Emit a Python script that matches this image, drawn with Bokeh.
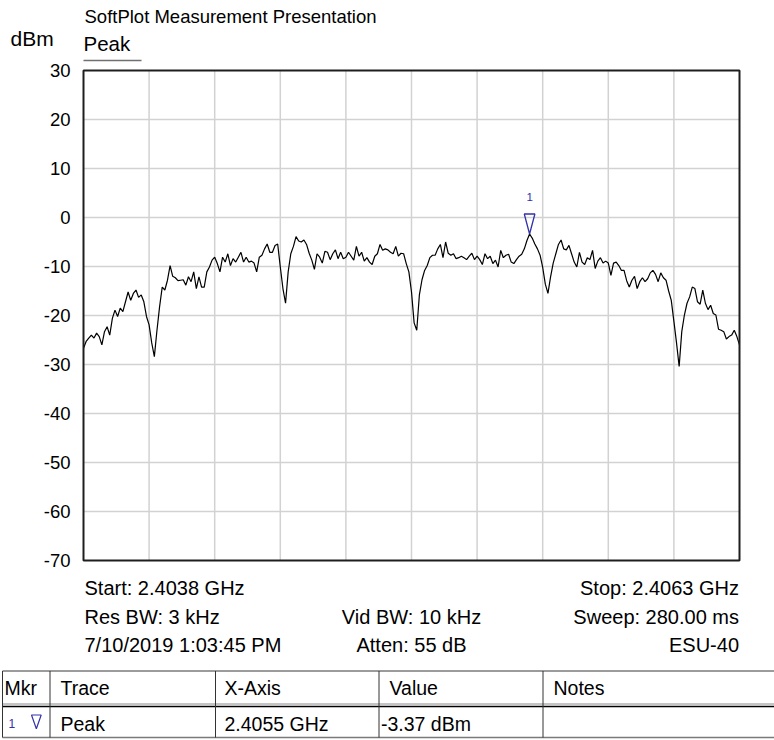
from bokeh.plotting import figure
from bokeh.models import Range1d, FixedTicker, LinearAxis
from bokeh.embed import file_html
from bokeh.resources import INLINE
from bokeh.core.properties import value
import numpy as np

# ---------------- data ----------------
START_GHZ = 2.4038
STOP_GHZ = 2.4063
Y_TICKS = [-70, -60, -50, -40, -30, -20, -10, 0, 10, 20, 30]
Y_TICK_LABELS = ["-70", "-60", "-50", "-40", "-30", "-20", "-10", "0", "10", "20", "30"]
X_DIVISIONS = 10

# Peak trace levels (dBm), equally spaced sweep points
level_dbm = [
    -26.7, -25.3, -24.6, -24.0, -24.6, -23.6, -24.3, -26.0, -23.3, -22.3,
    -24.0, -20.6, -18.9, -20.2, -18.5, -19.2, -17.2, -15.2, -16.9, -15.5,
    -14.8, -16.3, -15.8, -17.2, -20.2, -21.9, -25.6, -28.4, -23.0, -18.2,
    -14.2, -14.8, -12.8, -9.8, -12.0, -12.3, -12.9, -12.8, -12.7, -13.8,
    -12.1, -13.1, -11.1, -14.5, -12.1, -14.2, -14.2, -11.1, -10.1, -8.7,
    -8.1, -9.4, -11.1, -8.1, -9.1, -7.4, -9.8, -8.4, -9.1, -8.1,
    -7.1, -9.1, -8.1, -9.1, -8.9, -9.3, -11.1, -8.1, -7.7, -6.4,
    -5.4, -7.1, -7.1, -5.7, -5.4, -10.1, -14.5, -17.5, -11.1, -7.4,
    -5.9, -3.9, -4.8, -5.0, -4.6, -5.5, -7.3, -8.7, -10.6, -7.4,
    -8.1, -9.3, -6.9, -7.1, -8.6, -7.4, -6.6, -8.4, -7.1, -8.4,
    -8.1, -7.1, -7.9, -8.7, -5.9, -7.9, -7.1, -8.9, -8.2, -9.1,
    -9.6, -7.9, -7.4, -5.5, -6.7, -6.4, -6.6, -7.1, -7.4, -5.9,
    -7.9, -7.3, -7.4, -9.4, -11.1, -15.2, -21.5, -23.0, -15.8, -12.7,
    -10.8, -9.8, -8.2, -7.7, -7.7, -6.4, -5.5, -8.2, -5.0, -7.3,
    -7.7, -7.4, -8.4, -8.2, -7.9, -8.2, -8.6, -7.9, -7.3, -8.6,
    -7.9, -8.6, -9.6, -7.4, -8.4, -7.9, -9.4, -8.7, -10.1, -6.7,
    -8.2, -7.7, -7.5, -9.1, -9.4, -8.6, -7.9, -7.5, -6.4, -4.7,
    -3.37, -4.2, -5.4, -6.4, -7.7, -10.2, -13.6, -15.5, -12.1, -9.3,
    -7.4, -5.5, -4.6, -6.4, -6.6, -5.7, -7.4, -9.1, -10.1, -7.1,
    -9.1, -9.6, -8.2, -8.6, -6.7, -10.4, -8.9, -8.2, -9.3, -8.9,
    -9.3, -11.8, -9.3, -9.1, -9.8, -10.8, -10.8, -12.9, -14.2, -12.8,
    -12.0, -14.5, -13.1, -12.3, -13.1, -12.5, -11.3, -10.8, -11.6, -13.1,
    -11.3, -12.3, -12.8, -15.0, -16.9, -21.2, -25.6, -30.4, -23.3, -19.9,
    -17.5, -16.2, -14.2, -14.5, -17.2, -17.7, -14.8, -17.5, -18.8, -17.9,
    -19.6, -19.9, -22.8, -23.0, -23.3, -24.8, -24.3, -24.0, -23.0, -24.3,
    -26.0,
]

marker_label = "1"
marker_freq_ghz = 2.4055
marker_level_dbm = -3.37

header_title = "SoftPlot Measurement Presentation"
y_unit = "dBm"
trace_name = "Peak"

info_left = ["Start: 2.4038 GHz", "Res BW: 3 kHz", "7/10/2019 1:03:45 PM"]
info_center = ["Vid BW: 10 kHz", "Atten: 55 dB"]
info_right = ["Stop: 2.4063 GHz", "Sweep: 280.00 ms", "ESU-40"]

table_header = ["Mkr", "Trace", "X-Axis", "Value", "Notes"]
table_row = ["Peak", "2.4055 GHz", "-3.37 dBm"]

# ---------------- styling / layout ----------------
FONT = "Liberation Sans"
MK_COLOR = "#3232aa"
GRID_COLOR = "#d2d2d2"
W, H = 774, 740
FL, FW = 83, 656          # plot box left / width (canvas px)
FT, FH = 70, 490          # plot box top / height
FB = FT + FH

ghz_per_px = (STOP_GHZ - START_GHZ) / FW
db_per_px = (Y_TICKS[-1] - Y_TICKS[0]) / FH

# whole canvas is the frame; data ranges chosen so the plot box lands on FL..FL+FW, FT..FB
p = figure(width=W, height=H,
           x_range=Range1d(START_GHZ - FL * ghz_per_px, STOP_GHZ + (W - FL - FW) * ghz_per_px),
           y_range=Range1d(Y_TICKS[0] - (H - FB) * db_per_px, Y_TICKS[-1] + FT * db_per_px),
           output_backend="svg", toolbar_location=None,
           x_axis_location=None, y_axis_location=None, min_border=0)
p.grid.visible = False
p.outline_line_color = None
p.background_fill_color = "white"
p.border_fill_color = "white"
p.extra_x_ranges = {"px": Range1d(0, W)}
p.extra_y_ranges = {"px": Range1d(H, 0)}
PX = dict(x_range_name="px", y_range_name="px")

# y axis pinned to the left edge of the plot box
ya = LinearAxis(fixed_location=START_GHZ, ticker=FixedTicker(ticks=Y_TICKS))
ya.major_label_overrides = {t: s for t, s in zip(Y_TICKS, Y_TICK_LABELS)}
ya.axis_line_color = None
ya.major_tick_line_color = None
ya.minor_tick_line_color = None
ya.major_tick_out = 0
ya.major_tick_in = 0
ya.major_label_standoff = 13
ya.major_label_text_font = FONT
ya.major_label_text_font_size = "18.5px"
ya.major_label_text_color = "#000000"
p.add_layout(ya, "left")

# grid lines inside the plot box
x_grid = list(np.linspace(START_GHZ, STOP_GHZ, X_DIVISIONS + 1)[1:-1])
y_grid = Y_TICKS[1:-1]
p.segment(x0=x_grid, y0=[Y_TICKS[0]] * len(x_grid), x1=x_grid, y1=[Y_TICKS[-1]] * len(x_grid),
          line_color=GRID_COLOR, line_width=1.5)
p.segment(x0=[START_GHZ] * len(y_grid), y0=y_grid, x1=[STOP_GHZ] * len(y_grid), y1=y_grid,
          line_color=GRID_COLOR, line_width=1.5)

# trace
freq_ghz = np.linspace(START_GHZ, STOP_GHZ, len(level_dbm))
p.line(freq_ghz, level_dbm, line_color="#000000", line_width=1.2)

# plot box
p.quad(left=[START_GHZ], right=[STOP_GHZ], bottom=[Y_TICKS[0]], top=[Y_TICKS[-1]],
       fill_color=None, line_color="#1e1e1e", line_width=2)

# marker triangle (about 11 px wide, 20 px tall, tip on the marker point)
dx = 5.3 * ghz_per_px
dy = 20 * db_per_px
p.patch(x=[marker_freq_ghz - dx, marker_freq_ghz + dx, marker_freq_ghz],
        y=[marker_level_dbm + dy, marker_level_dbm + dy, marker_level_dbm],
        fill_color=None, line_color=MK_COLOR, line_width=1.3)
p.text(x=[marker_freq_ghz], y=[marker_level_dbm], text=[marker_label], y_offset=-37,
       text_align="center", text_baseline="middle", text_font=value(FONT),
       text_font_size="11.5px", text_color=MK_COLOR)


# ------------- header, settings text and marker table (canvas px range) -------------
def txt(xs, ys, texts, size, align="left", color="#000000"):
    # ys are the vertical centres of the capital letters
    p.text(x=xs, y=ys, text=texts, text_font=value(FONT), text_font_size=size,
           text_align=align, text_baseline="middle", text_color=color, **PX)


def seg(x0, y0, x1, y1, color, width):
    p.segment(x0=x0, y0=y0, x1=x1, y1=y1, line_color=color, line_width=width, **PX)


txt([84], [15.5], [header_title], "18.5px")
txt([10], [37.5], [y_unit], "21px")
txt([83], [43.3], [trace_name], "20.5px")
seg([83], [60], [141], [60], "#707070", 1.5)

txt([84, 84, 84], [587.5, 616.3, 644.5], info_left, "20px", "left")
txt([411, 411], [616.3, 644.5], info_center, "20px", "center")
txt([738.5, 738.5, 738.5], [587.5, 616.3, 644.5], info_right, "20px", "right")

T_TOP, SEP1, SEP2, T_BOT = 670.5, 703.5, 706, 737
col_x = [2, 49.5, 215, 378.5, 542.5]
seg([2], [T_TOP], [W], [T_TOP], "#7a7a7a", 1.5)
seg([2], [SEP1], [W], [SEP1], "#8a8a8a", 1)
seg([2], [SEP2], [W], [SEP2], "#000000", 1.3)
seg([2], [T_BOT], [W], [T_BOT], "#7a7a7a", 1.5)
seg(col_x, [T_TOP] * 5, col_x, [T_BOT] * 5, "#333333", 1)

txt([4, 60, 224, 389, 553], [687.5] * 5, table_header, "19.5px")
txt([60, 224, 380.5], [723.3] * 3, table_row, "19.5px")
txt([8], [723], [marker_label], "12px", color=MK_COLOR)
p.patch(x=[31, 40.7, 35.85], y=[714.5, 714.5, 728.3], fill_color=None,
        line_color=MK_COLOR, line_width=1.2, **PX)

open("out.html", "w").write(file_html(p, INLINE))
